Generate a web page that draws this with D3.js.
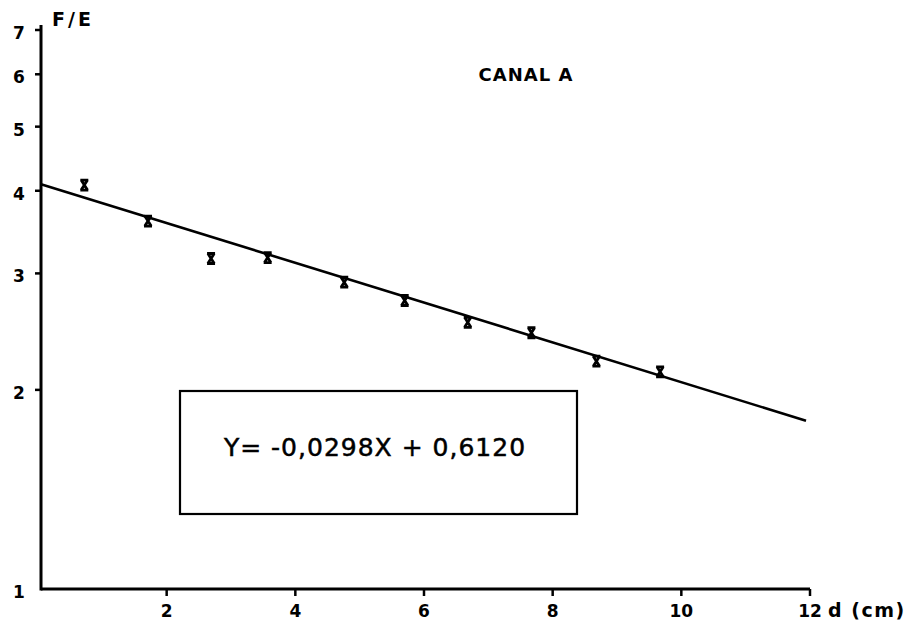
<!DOCTYPE html>
<html>
<head>
<meta charset="utf-8">
<script src="https://cdn.jsdelivr.net/npm/d3@7"></script>
<style>
  html, body { margin: 0; padding: 0; background: #fff; }
  svg { display: block; }
  text { font-family: "DejaVu Sans", "Liberation Sans", sans-serif; fill: #000; }
</style>
</head>
<body>
<svg id="chart" width="912" height="625"></svg>
<script>
// Measured distance d (cm) and ratio F/E, channel A
const distance = [0.72, 1.71, 2.69, 3.57, 4.76, 5.70, 6.68, 7.67, 8.68, 9.67];
const ratio    = [4.08, 3.60, 3.16, 3.17, 2.91, 2.73, 2.53, 2.44, 2.21, 2.13];

// Fitted line: log10(F/E) = slope * d + intercept
const slope = -0.0298;
const intercept = 0.6120;

const xTicks = [2, 4, 6, 8, 10, 12];
const yTicks = [1, 2, 3, 4, 5, 6, 7];

const title = "CANAL A";
const yLabel = "F/E";
const xLabel = "d (cm)";
const equation = "Y= -0,0298X + 0,6120";

const svg = d3.select("#chart");

const x = d3.scaleLinear().domain([0, 12]).range([38, 810]);
const y = d3.scaleLog().domain([1, 7]).range([589, 30]);

// Axes
const axisX0 = 41;
svg.append("line")
  .attr("x1", axisX0).attr("x2", x(12))
  .attr("y1", y(1)).attr("y2", y(1))
  .attr("stroke", "#000").attr("stroke-width", 3);
svg.append("line")
  .attr("x1", axisX0).attr("x2", axisX0)
  .attr("y1", y(1) + 1.5).attr("y2", y(7) - 5)
  .attr("stroke", "#000").attr("stroke-width", 3);

// Y ticks and labels
const gy = svg.append("g");
gy.selectAll("line").data(yTicks.filter(d => d > 1)).join("line")
  .attr("x1", axisX0 - 6).attr("x2", axisX0)
  .attr("y1", d => y(d)).attr("y2", d => y(d))
  .attr("stroke", "#000").attr("stroke-width", 2.5);
gy.selectAll("text").data(yTicks).join("text")
  .attr("x", 19).attr("y", d => y(d) + 9)
  .attr("text-anchor", "middle")
  .attr("font-size", 17).attr("font-weight", "bold")
  .text(d => d);

// X ticks and labels
const gx = svg.append("g");
gx.selectAll("line").data(xTicks).join("line")
  .attr("x1", d => x(d)).attr("x2", d => x(d))
  .attr("y1", y(1)).attr("y2", y(1) + 7)
  .attr("stroke", "#000").attr("stroke-width", 2.5);
gx.selectAll("text").data(xTicks).join("text")
  .attr("x", d => x(d)).attr("y", 617)
  .attr("text-anchor", "middle")
  .attr("font-size", 17).attr("font-weight", "bold")
  .text(d => d);

svg.append("text")
  .attr("x", 828).attr("y", 617)
  .attr("font-size", 19).attr("font-weight", "bold")
  .attr("letter-spacing", 1.5)
  .text(xLabel);

svg.append("text")
  .attr("x", 52).attr("y", 26)
  .attr("font-size", 19).attr("font-weight", "bold")
  .attr("letter-spacing", 3)
  .text(yLabel);

svg.append("text")
  .attr("x", 526).attr("y", 81)
  .attr("text-anchor", "middle")
  .attr("font-size", 18).attr("font-weight", "bold")
  .attr("letter-spacing", 1)
  .text(title);

// Regression line
const fit = d => Math.pow(10, slope * d + intercept);
svg.append("line")
  .attr("x1", axisX0).attr("y1", y(fit(0)))
  .attr("x2", x(12) - 4).attr("y2", y(fit(12)))
  .attr("stroke", "#000").attr("stroke-width", 2.6);

// Data markers
const marker = "M-4,-5L4,-5M-4,5L4,5M-3.2,-5L3.2,5M3.2,-5L-3.2,5";
svg.append("g").selectAll("path").data(distance).join("path")
  .attr("transform", (d, i) => `translate(${x(d)},${y(ratio[i])})`)
  .attr("d", marker)
  .attr("fill", "none").attr("stroke", "#000").attr("stroke-width", 2.8);

// Equation box
svg.append("rect")
  .attr("x", 180).attr("y", 391).attr("width", 397).attr("height", 123)
  .attr("fill", "none").attr("stroke", "#000").attr("stroke-width", 2.2);
svg.append("text")
  .attr("x", 375).attr("y", 456)
  .attr("text-anchor", "middle")
  .attr("font-size", 25)
  .attr("letter-spacing", 1)
  .attr("stroke", "#000").attr("stroke-width", 0.5)
  .text(equation);
</script>
</body>
</html>
